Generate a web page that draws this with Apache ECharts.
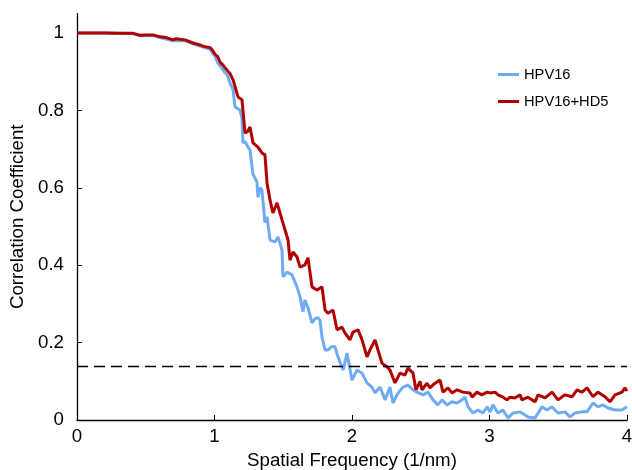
<!DOCTYPE html>
<html>
<head>
<meta charset="utf-8">
<script src="https://cdn.jsdelivr.net/npm/echarts@6/dist/echarts.min.js"></script>
<style>
html,body{margin:0;padding:0;background:#fff;}
#chart{width:632px;height:470px;}
</style>
</head>
<body>
<div id="chart"></div>
<script>
// [spatial frequency (1/nm), correlation coefficient]
const hpv16 = [
[0,1.0],[0.1,1.0],[0.2,1.0],[0.3,0.999],[0.407,0.998],[0.458,0.993],[0.553,0.993],[0.604,0.988],[0.698,0.98],[0.785,0.98],
[0.844,0.972],[0.895,0.966],[0.967,0.958],[0.982,0.95],[1.004,0.94],[1.025,0.922],[1.04,0.915],[1.062,0.905],[1.076,0.897],[1.091,0.893],
[1.113,0.871],[1.135,0.853],[1.149,0.809],[1.185,0.801],[1.2,0.78],[1.207,0.716],[1.222,0.72],[1.244,0.705],[1.258,0.698],[1.28,0.635],
[1.309,0.615],[1.316,0.576],[1.331,0.6],[1.345,0.594],[1.367,0.51],[1.382,0.525],[1.404,0.465],[1.44,0.46],[1.462,0.473],[1.491,0.439],
[1.498,0.37],[1.527,0.382],[1.564,0.375],[1.6,0.344],[1.622,0.318],[1.644,0.28],[1.658,0.31],[1.68,0.29],[1.709,0.251],[1.731,0.262],
[1.753,0.264],[1.767,0.258],[1.782,0.214],[1.804,0.181],[1.825,0.181],[1.855,0.19],[1.876,0.189],[1.898,0.163],[1.935,0.129],[1.964,0.173],
[2.0,0.103],[2.036,0.129],[2.073,0.121],[2.109,0.096],[2.145,0.085],[2.167,0.07],[2.204,0.085],[2.24,0.052],[2.276,0.085],[2.298,0.044],
[2.335,0.07],[2.371,0.085],[2.407,0.09],[2.444,0.078],[2.473,0.072],[2.516,0.065],[2.553,0.072],[2.589,0.052],[2.625,0.039],[2.655,0.052],
[2.691,0.039],[2.727,0.047],[2.764,0.044],[2.8,0.052],[2.822,0.059],[2.844,0.034],[2.88,0.018],[2.916,0.026],[2.953,0.018],[2.982,0.034],
[3.004,0.021],[3.025,0.039],[3.062,0.018],[3.098,0.026],[3.135,0.005],[3.171,0.018],[3.222,0.021],[3.25,0.015],[3.28,0.008],[3.331,0.005],
[3.382,0.034],[3.418,0.026],[3.455,0.034],[3.498,0.018],[3.549,0.021],[3.585,0.008],[3.622,0.018],[3.673,0.021],[3.709,0.021],[3.753,0.044],
[3.789,0.034],[3.825,0.039],[3.862,0.031],[3.913,0.026],[3.964,0.026],[4.0,0.034]
];
const hpv16hd5 = [
[0,1.0],[0.1,1.0],[0.2,1.0],[0.3,0.999],[0.407,0.999],[0.458,0.994],[0.5,0.995],[0.553,0.995],[0.604,0.99],[0.65,0.988],
[0.698,0.982],[0.72,0.985],[0.785,0.982],[0.844,0.974],[0.895,0.969],[0.916,0.966],[0.967,0.962],[0.982,0.957],[1.004,0.945],[1.025,0.938],
[1.04,0.925],[1.062,0.917],[1.076,0.912],[1.091,0.904],[1.113,0.895],[1.135,0.879],[1.171,0.835],[1.185,0.832],[1.2,0.827],[1.222,0.742],
[1.24,0.745],[1.258,0.757],[1.28,0.716],[1.316,0.705],[1.345,0.69],[1.367,0.685],[1.382,0.612],[1.404,0.568],[1.425,0.535],[1.455,0.561],
[1.491,0.517],[1.513,0.491],[1.535,0.465],[1.549,0.413],[1.571,0.434],[1.6,0.421],[1.622,0.395],[1.658,0.401],[1.68,0.419],[1.709,0.344],
[1.745,0.336],[1.782,0.344],[1.804,0.284],[1.825,0.276],[1.862,0.284],[1.891,0.233],[1.927,0.24],[1.949,0.225],[1.985,0.207],[2.007,0.227],
[2.044,0.233],[2.073,0.207],[2.109,0.163],[2.131,0.181],[2.167,0.207],[2.189,0.181],[2.218,0.147],[2.255,0.137],[2.276,0.129],[2.313,0.096],
[2.349,0.121],[2.385,0.116],[2.407,0.134],[2.444,0.121],[2.465,0.078],[2.495,0.1],[2.509,0.078],[2.545,0.095],[2.567,0.083],[2.604,0.095],
[2.64,0.103],[2.662,0.072],[2.698,0.083],[2.727,0.07],[2.764,0.078],[2.807,0.072],[2.858,0.07],[2.873,0.059],[2.909,0.072],[2.945,0.065],
[2.982,0.072],[3.004,0.07],[3.04,0.072],[3.062,0.065],[3.098,0.059],[3.127,0.052],[3.149,0.059],[3.185,0.057],[3.222,0.065],[3.236,0.052],
[3.28,0.059],[3.331,0.047],[3.353,0.065],[3.404,0.057],[3.455,0.072],[3.498,0.052],[3.549,0.065],[3.6,0.06],[3.636,0.078],[3.673,0.072],
[3.709,0.083],[3.753,0.06],[3.789,0.072],[3.84,0.06],[3.876,0.047],[3.913,0.065],[3.964,0.072],[3.985,0.083],[4.0,0.075]
];
const seriesNames = ['HPV16', 'HPV16+HD5'];
const seriesColors = ['#6faaf7', '#b00000'];
const threshold = 0.143;
const xTicks = [0, 1, 2, 3, 4];
const yTicks = [0, 0.2, 0.4, 0.6, 0.8, 1];

const FONT = 'Liberation Sans, Arial, sans-serif';
const chart = echarts.init(document.getElementById('chart'), null, {renderer: 'canvas'});
chart.setOption({
  animation: false,
  backgroundColor: '#fff',
  textStyle: {fontFamily: FONT},
  grid: {left: 77, right: 5, top: 13.6, bottom: 50, containLabel: false, outerBoundsMode: 'none'},
  legend: {
    orient: 'vertical', left: 498, top: 67, padding: 0, itemGap: 12,
    itemWidth: 21, itemHeight: 3, itemStyle: {borderWidth: 0},
    textStyle: {fontSize: 14.7, color: '#000', fontFamily: FONT},
    data: seriesNames.map(n => ({name: n, icon: 'rect'}))
  },
  xAxis: {
    type: 'value', min: 0, max: 4, interval: 1,
    name: 'Spatial Frequency (1/nm)', nameLocation: 'middle', nameGap: 31,
    nameTextStyle: {fontSize: 18.7, color: '#000', fontFamily: FONT},
    axisLine: {lineStyle: {color: '#000', width: 1.3}},
    axisTick: {inside: true, length: 5, lineStyle: {color: '#000'}, customValues: xTicks},
    axisLabel: {fontSize: 18.7, color: '#000', margin: 7, fontFamily: FONT, customValues: xTicks},
    splitLine: {show: false}
  },
  yAxis: {
    type: 'value', min: 0, max: 1.05,
    name: 'Correlation Coefficient', nameLocation: 'middle', nameGap: 45, nameRotate: 90,
    nameTextStyle: {fontSize: 18.7, color: '#000', fontFamily: FONT},
    axisLine: {show: true, lineStyle: {color: '#000', width: 1.3}},
    axisTick: {show: true, inside: true, length: 5, lineStyle: {color: '#000'}, customValues: yTicks},
    axisLabel: {fontSize: 18.7, color: '#000', margin: 13, fontFamily: FONT, customValues: yTicks,
      formatter: v => String(Math.round(v * 10) / 10)},
    splitLine: {show: false}
  },
  series: [
    {
      name: seriesNames[0], type: 'line', data: hpv16, showSymbol: false, symbol: 'none',
      color: seriesColors[0], lineStyle: {width: 3, color: seriesColors[0]},
      markLine: {
        silent: true, symbol: 'none', label: {show: false},
        lineStyle: {color: '#000', type: [11, 6], width: 1.4},
        data: [{yAxis: threshold}]
      }
    },
    {
      name: seriesNames[1], type: 'line', data: hpv16hd5, showSymbol: false, symbol: 'none',
      color: seriesColors[1], lineStyle: {width: 3, color: seriesColors[1]}
    }
  ]
});
</script>
</body>
</html>
